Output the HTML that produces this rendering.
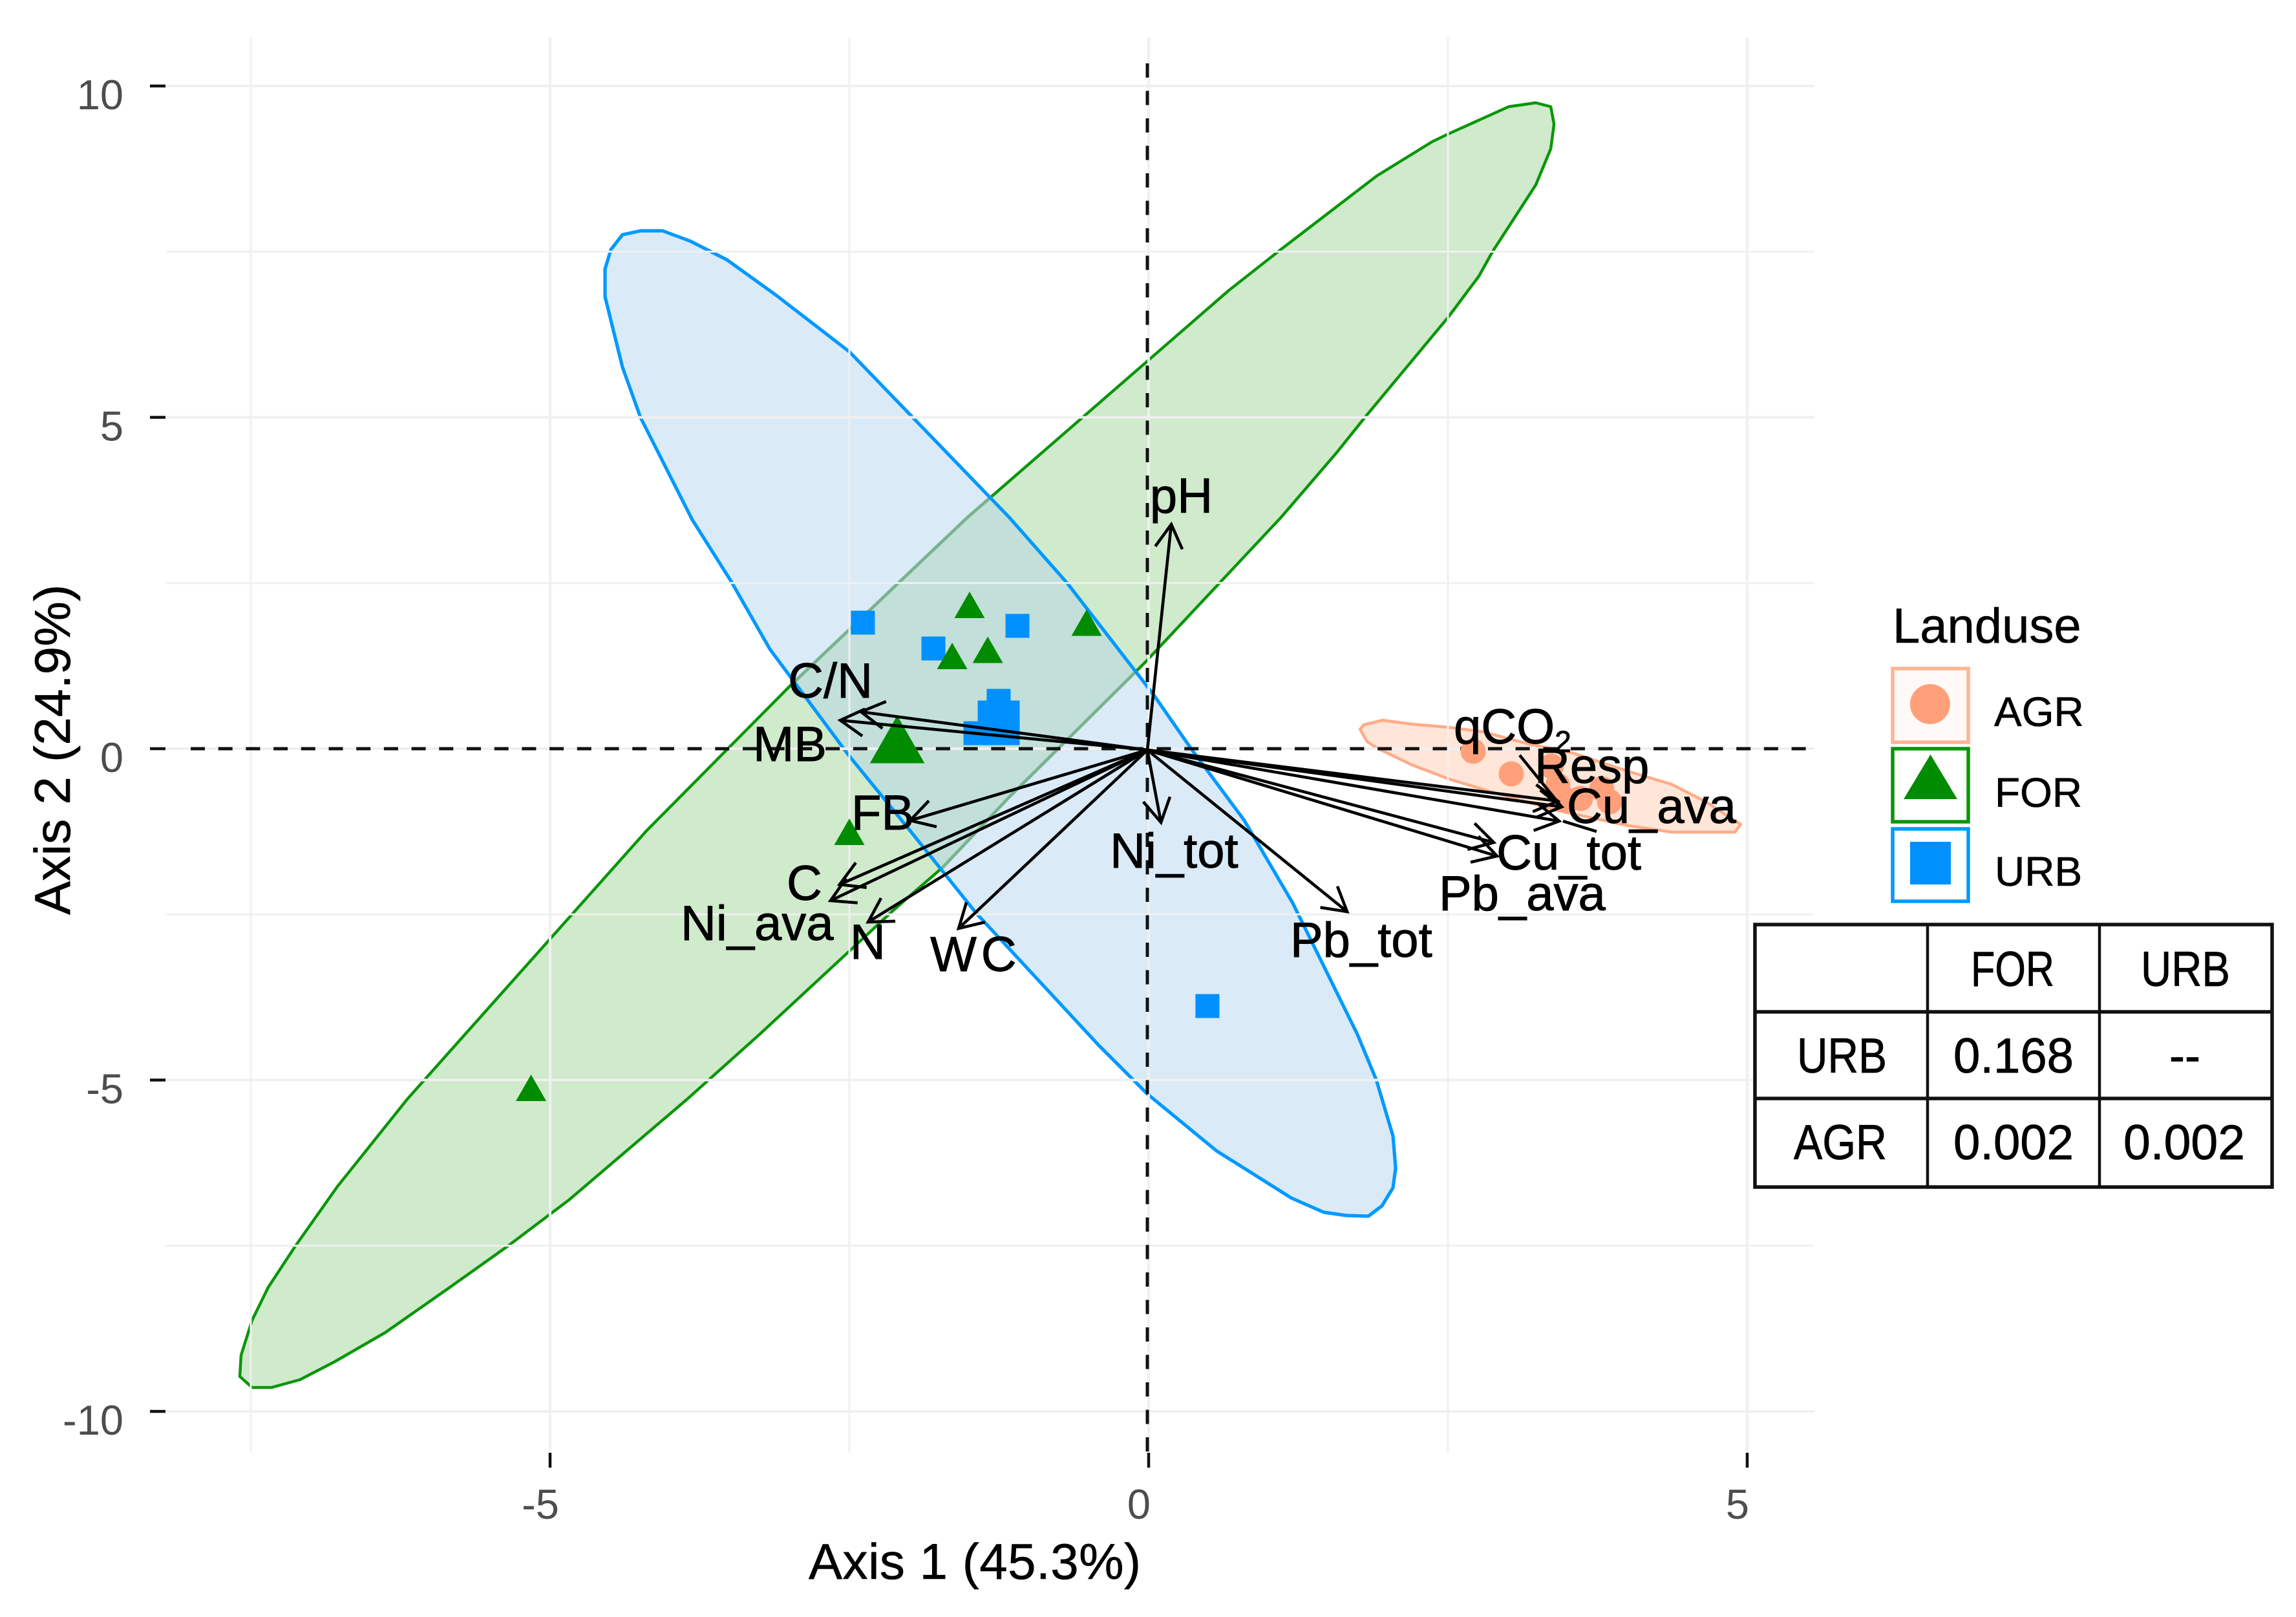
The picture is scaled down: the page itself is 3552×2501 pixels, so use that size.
<!DOCTYPE html>
<html lang="en">
<head>
<meta charset="utf-8">
<title>PCA biplot by land use</title>
<style>
html,body{margin:0;padding:0;background:#fff;}
svg{display:block;font-family:"Liberation Sans",sans-serif;}
</style>
</head>
<body>
<svg id="chart" xmlns="http://www.w3.org/2000/svg" width="3552" height="2501" viewBox="0 0 3552 2501">
<rect x="0" y="0" width="3552" height="2501" fill="#ffffff"/>
<defs id="chart-defs"></defs>
<g id="layer-hulls"></g>
<g id="layer-grid"></g>
<g id="layer-axes"></g>
<g id="layer-points"></g>
<g id="layer-arrows"></g>
<g id="layer-labels"></g>

<text x="1251" y="2442" font-size="78" textLength="514" fill="#000" stroke="#000" stroke-width="0.6">Axis 1 (45.3%)</text>
<text transform="translate(108,1415) rotate(-90)" font-size="78" textLength="511" fill="#000" stroke="#000" stroke-width="0.6">Axis 2 (24.9%)</text>

<g>
  <text x="2928" y="994" font-size="76" fill="#000" stroke="#000" stroke-width="0.6">Landuse</text>
  <g>
    <rect x="2928" y="1034" width="117" height="114" fill="#fffaf7" stroke="#ffb494" stroke-width="5.5"/>
    <ellipse cx="2986" cy="1089" rx="31" ry="31" fill="#ffa07a"/>
    <text x="3085" y="1123" font-size="64" fill="#000" stroke="#000" stroke-width="0.6">AGR</text>
  </g>
  <g>
    <rect x="2928" y="1158" width="117" height="113" fill="#fff" stroke="#0a960a" stroke-width="5.5"/>
    <polygon points="2986.5,1167 3028,1236 2945,1236" fill="#008b00"/>
    <text x="3086" y="1248" font-size="64" fill="#000" stroke="#000" stroke-width="0.6">FOR</text>
  </g>
  <g>
    <rect x="2928" y="1282" width="117" height="112" fill="#fff" stroke="#0099ff" stroke-width="5.5"/>
    <rect x="2955" y="1302" width="63" height="66" fill="#0090ff"/>
    <text x="3086" y="1370" font-size="64" fill="#000" stroke="#000" stroke-width="0.6">URB</text>
  </g>
</g>

<g fill="#000" font-size="76" stroke="#000" stroke-width="0.8">
  <rect x="2715" y="1430" width="800" height="406" fill="#fff" stroke="#111" stroke-width="5.5"/>
  <line x1="2982" y1="1430" x2="2982" y2="1836" stroke="#111" stroke-width="4.5"/>
  <line x1="3248" y1="1430" x2="3248" y2="1836" stroke="#111" stroke-width="4.5"/>
  <line x1="2715" y1="1565" x2="3515" y2="1565" stroke="#111" stroke-width="5.5"/>
  <line x1="2715" y1="1699" x2="3515" y2="1699" stroke="#111" stroke-width="5.5"/>
  <text x="3049" y="1525" textLength="129" lengthAdjust="spacingAndGlyphs">FOR</text>
  <text x="3312" y="1525" textLength="138" lengthAdjust="spacingAndGlyphs">URB</text>
  <text x="2780" y="1659" textLength="139" lengthAdjust="spacingAndGlyphs">URB</text>
  <text x="3022" y="1659" textLength="186" lengthAdjust="spacingAndGlyphs">0.168</text>
  <text x="3356" y="1659" textLength="48" lengthAdjust="spacingAndGlyphs">--</text>
  <text x="2775" y="1793" textLength="144" lengthAdjust="spacingAndGlyphs">AGR</text>
  <text x="3022" y="1793" textLength="186" lengthAdjust="spacingAndGlyphs">0.002</text>
  <text x="3285" y="1793" textLength="188" lengthAdjust="spacingAndGlyphs">0.002</text>
</g>
</svg>

<script>
// ---- chart data (axis units) ----
const gridXValues = [-7.5, -5, -2.5, 0, 2.5, 5];
const gridYValues = [-10, -7.5, -5, -2.5, 0, 2.5, 5, 7.5, 10];
const xTickValues = [-5, 0, 5];
const yTickValues = [-10, -5, 0, 5, 10];

const forHullX = [3.234,3.359,3.386,3.359,3.234,2.873,2.759,2.505,1.809,1.571,1.107,-0.027,-0.751,-1.166,-1.717,-2.127,-3.251,-3.855,-4.843,-5.351,-5.837,-6.377,-6.798,-7.09,-7.327,-7.489,-7.592,-7.581,-7.489,-7.354,-7.127,-6.776,-6.193,-4.195,-2.991,-1.512,0.664,1.096,1.906,2.37,2.505,3.008];
const forHullY = [9.746,9.688,9.424,9.054,8.507,7.502,7.132,6.517,5.005,4.468,3.493,1.307,0.01,-0.732,-1.785,-2.429,-4.312,-5.288,-6.81,-7.502,-8.127,-8.81,-9.249,-9.522,-9.639,-9.639,-9.473,-9.151,-8.624,-8.127,-7.502,-6.605,-5.288,-1.239,0.956,3.493,6.907,7.522,8.644,9.161,9.278,9.688];

const urbHullX = [-4.06,-3.828,-3.521,-3.116,-2.5,-1.166,-0.68,0.043,0.351,0.799,1.204,1.744,1.901,2.041,2.063,2.041,1.949,1.836,1.652,1.463,1.193,0.567,-0.011,-0.416,-1.442,-1.992,-2.511,-3.164,-3.488,-3.812,-4.244,-4.395,-4.541,-4.541,-4.492,-4.395,-4.244];
const urbHullY = [7.815,7.659,7.376,6.849,5.99,3.493,2.498,0.81,0.01,-1.083,-2.332,-4.312,-4.995,-5.844,-6.332,-6.624,-6.898,-7.054,-7.044,-6.995,-6.78,-6.068,-5.21,-4.478,-2.478,-1.239,-0.088,1.502,2.527,3.454,4.995,5.756,6.82,7.239,7.532,7.756,7.815];

const agrHullX = [1.766,1.798,1.955,2.198,2.511,2.797,3.159,3.548,4.006,4.368,4.654,4.946,4.897,4.368,4.006,3.402,2.921,2.511,2.198,1.906,1.825];
const agrHullY = [0.293,0.361,0.429,0.371,0.322,0.254,0.078,-0.068,-0.341,-0.537,-0.8,-1.141,-1.259,-1.259,-1.161,-0.927,-0.683,-0.459,-0.244,0.01,0.107];

const urbPointX = [-2.387,-1.096,-1.798,-1.253,-1.328,-1.177,-1.328,-1.177,-1.447,0.491];
const urbPointY = [1.902,1.854,1.512,0.722,0.546,0.546,0.234,0.234,0.234,-3.883];

const forPointX = [-1.496,-0.518,-1.344,-1.641,-2.1,-2.5,-5.159];
const forPointY = [2.171,1.902,1.493,1.4,0.141,-1.254,-5.117];
const forPointWeight = [1,1,1,1,1.8,1,1];

const agrPointX = [2.711,3.029,3.364,3.418,3.499,3.607,3.785,3.85];
const agrPointY = [-0.039,-0.38,-0.263,-0.556,-0.78,-0.751,-0.605,-0.8];

const loadingNames = ['pH','Ni_tot','C/N','MB','FB','C','Ni_ava','N','WC','Pb_tot','Pb_ava','Cu_tot','Cu_ava','Resp','qCO2'];
const loadingX = [0.189,0.103,-2.403,-2.576,-1.992,-2.581,-2.657,-2.343,-1.587,1.658,2.91,2.883,3.45,3.429,3.418];
const loadingY = [3.385,-1.112,0.556,0.429,-1.083,-2.049,-2.293,-2.615,-2.712,-2.459,-1.62,-1.415,-0.878,-1.093,-0.79];
const labelX = [0.032,-0.302,-2.991,-3.283,-2.462,-3.002,-3.888,-2.473,-1.803,1.204,2.446,2.927,3.515,3.245,2.57];
const labelY = [3.561,-1.795,0.771,-0.185,-1.22,-2.283,-2.888,-3.171,-3.356,-3.141,-2.439,-1.824,-1.122,-0.517,0.078];

const strayStartX = [3.099,3.461];
const strayStartY = [-0.098,-1.093];
const strayEndX = [3.45,3.742];
const strayEndY = [-0.878,-1.249];

// ---- axis functions ----
function sx(v){ return 1777 + 185.2 * v; }
function sy(v){ return 1158 - 102.5 * v; }

const NS = 'http://www.w3.org/2000/svg';
function make(tag, parentId, attrs){
  const node = document.createElementNS(NS, tag);
  for (const k in attrs) node.setAttribute(k, attrs[k]);
  document.getElementById(parentId).appendChild(node);
  return node;
}
function hullPath(xs, ys){
  return xs.map(function(v, i){ return (i ? 'L' : 'M') + sx(v).toFixed(1) + ' ' + sy(ys[i]).toFixed(1); }).join(' ') + ' Z';
}

// ---- ellipses ----
const forPath = hullPath(forHullX, forHullY);
const urbPath = hullPath(urbHullX, urbHullY);
const agrPath = hullPath(agrHullX, agrHullY);

let el = make('clipPath', 'chart-defs', {id: 'urb-clip'});


const clipShape = document.createElementNS(NS, 'path');
clipShape.setAttribute('d', urbPath);
el.appendChild(clipShape);

el = make('path', 'layer-hulls', {d: agrPath, fill: '#ffe6d8', stroke: '#ffab88', 'stroke-width': 4.5, 'stroke-linejoin': 'round'});



el = make('path', 'layer-hulls', {d: forPath, fill: '#d0eacc', stroke: 'none'});



el = make('path', 'layer-hulls', {d: urbPath, fill: '#daeaf7', stroke: 'none'});



el = make('path', 'layer-hulls', {d: forPath, fill: '#c2e0d9', stroke: 'none', 'clip-path': 'url(#urb-clip)'});



el = make('path', 'layer-hulls', {d: forPath, fill: 'none', stroke: '#0a960a', 'stroke-width': 4.5, 'stroke-linejoin': 'round'});



el = make('path', 'layer-hulls', {d: forPath, fill: 'none', stroke: '#78b38e', 'stroke-width': 4.8, 'clip-path': 'url(#urb-clip)'});



el = make('path', 'layer-hulls', {d: urbPath, fill: 'none', stroke: '#0099ff', 'stroke-width': 5.2, 'stroke-linejoin': 'round'});



// ---- gridlines ----
gridXValues.forEach(function(v){
  const major = v % 5 === 0;
  const line = make('line', 'layer-grid', {x1: sx(v), x2: sx(v), y1: 58, y2: 2247, stroke: '#f0f0f0', 'stroke-width': major ? 4 : 3});
  
  
});
gridYValues.forEach(function(v){
  const major = v % 5 === 0;
  const line = make('line', 'layer-grid', {x1: 256, x2: 2807, y1: sy(v), y2: sy(v), stroke: '#f0f0f0', 'stroke-width': major ? 4 : 3});
  
  
});

// ---- ticks and labels ----
xTickValues.forEach(function(v){
  const tick = make('line', 'layer-axes', {x1: sx(v), x2: sx(v), y1: 2247, y2: 2270, stroke: '#111', 'stroke-width': 4.5});
  
  
  const label = make('text', 'layer-axes', {x: sx(v) - 15, y: 2349, 'text-anchor': 'middle', 'font-size': 65, fill: '#4d4d4d'});
  
  
  label.textContent = String(v);
});
yTickValues.forEach(function(v){
  const tick = make('line', 'layer-axes', {x1: 232, x2: 256, y1: sy(v), y2: sy(v), stroke: '#111', 'stroke-width': 4.5});
  
  
  const label = make('text', 'layer-axes', {x: 191, y: sy(v) + 36, 'text-anchor': 'end', 'font-size': 65, fill: '#4d4d4d'});
  
  
  label.textContent = String(v);
});

// ---- dashed zero lines ----
el = make('line', 'layer-axes', {x1: 295, x2: 2805, y1: sy(0), y2: sy(0), stroke: '#111', 'stroke-width': 5, 'stroke-dasharray': '22 20.7'});


el = make('line', 'layer-axes', {x1: sx(0) - 2, x2: sx(0) - 2, y1: 98, y2: 2250, stroke: '#111', 'stroke-width': 5, 'stroke-dasharray': '22 20.5'});



// ---- points ----
agrPointX.forEach(function(v, i){
  const c = make('circle', 'layer-points', {cx: sx(v), cy: sy(agrPointY[i]), r: 19.5, fill: '#ffa07a'});
  
  
});
urbPointX.forEach(function(v, i){
  const r = make('rect', 'layer-points', {x: sx(v) - 18.5, y: sy(urbPointY[i]) - 18.5, width: 37, height: 37, fill: '#0090ff'});
  
  
});
forPointX.forEach(function(v, i){
  const w = 23.5 * forPointWeight[i], h = 20.5 * forPointWeight[i];
  const cx = sx(v), cy = sy(forPointY[i]);
  const t = make('polygon', 'layer-points', {points: cx + ',' + (cy - h) + ' ' + (cx + w) + ',' + (cy + h) + ' ' + (cx - w) + ',' + (cy + h), fill: '#008b00'});
  
  
});

// ---- loading arrows ----
const headLength = 42;
const headAngle = 30 * Math.PI / 180;
loadingX.forEach(function(v, i){
  const x0 = sx(0) - 2, y0 = sy(0) + 2;
  const x1 = sx(v), y1 = sy(loadingY[i]);
  const a = Math.atan2(y1 - y0, x1 - x0);
  const shaft = make('line', 'layer-arrows', {x1: x0, y1: y0, x2: x1, y2: y1, stroke: '#000', 'stroke-width': 4.6});
  
  
  const d = 'M' + (x1 - headLength * Math.cos(a - headAngle)) + ' ' + (y1 - headLength * Math.sin(a - headAngle)) +
            ' L' + x1 + ' ' + y1 +
            ' L' + (x1 - headLength * Math.cos(a + headAngle)) + ' ' + (y1 - headLength * Math.sin(a + headAngle));
  const head = make('path', 'layer-arrows', {d: d, fill: 'none', stroke: '#000', 'stroke-width': 4.6});
  
  
});
strayStartX.forEach(function(v, i){
  const line = make('line', 'layer-arrows', {x1: sx(v), y1: sy(strayStartY[i]), x2: sx(strayEndX[i]), y2: sy(strayEndY[i]), stroke: '#000', 'stroke-width': 4.6});
  
  
});

// ---- loading labels ----
loadingNames.forEach(function(name, i){
  const t = make('text', 'layer-labels', {x: sx(labelX[i]) - 4, y: sy(labelY[i]), 'font-size': 76, fill: '#000', stroke: '#000', 'stroke-width': 0.9});
  
  
  if (name === 'WC') {
    t.setAttribute('letter-spacing', '7');
  }
  if (name === 'qCO2') {
    const main = document.createElementNS(NS, 'tspan');
    main.textContent = 'qCO';
    const sub = document.createElementNS(NS, 'tspan');
    sub.setAttribute('font-size', '46');
    sub.setAttribute('dy', '13');
    sub.textContent = '2';
    t.appendChild(main);
    t.appendChild(sub);
  } else {
    t.textContent = name;
  }
});
</script>
</body>
</html>
